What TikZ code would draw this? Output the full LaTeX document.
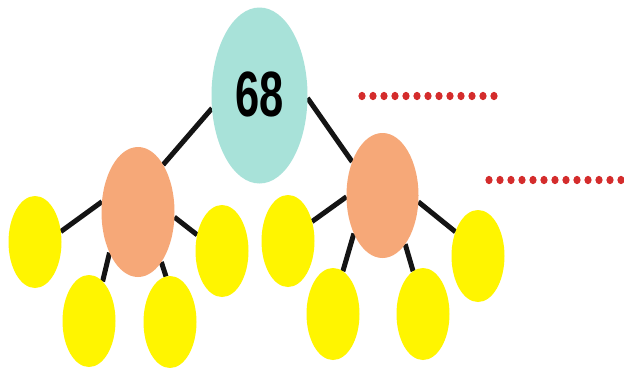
\documentclass[tikz,border=0pt]{standalone}
\usepackage{fontspec}
\usepackage{graphicx}
\setmainfont{Liberation Sans}
\usetikzlibrary{shapes.geometric}
\pgfdeclarelayer{bg}
\pgfsetlayers{bg,main}
\definecolor{tealc}{RGB}{168,226,217}
\definecolor{orangec}{RGB}{246,168,120}
\definecolor{yellowc}{RGB}{255,245,0}
\definecolor{dotred}{RGB}{212,44,44}
\begin{document}
\begin{tikzpicture}[x=1pt,y=-1pt,
  blob/.style={ellipse, inner sep=0pt, outer sep=0pt},
  rootnode/.style={blob, fill=tealc, minimum width=96pt, minimum height=176pt},
  midnode/.style={blob, fill=orangec, minimum width=72pt, minimum height=127pt},
  leaf/.style={blob, fill=yellowc, minimum width=53pt, minimum height=92pt},
  edge/.style={line width=5pt, black!92},
  dotrow/.style={fill=dotred}]
\useasboundingbox (0,0) rectangle (624,367);

\node[rootnode] (root) at (259.5,95.5)
  {\raisebox{3pt}{\bfseries\scalebox{0.68}[1]{\fontsize{64}{64}\selectfont 68}}};
\node[midnode, minimum height=130pt, minimum width=73pt] (L) at (138,212) {};
\node[midnode, minimum height=125pt] (R) at (382.5,195.5) {};

\node[leaf] (y1) at (35,242) {};
\node[leaf] (y2) at (89,321) {};
\node[leaf] (y3) at (170,322) {};
\node[leaf] (y4) at (222,251) {};
\node[leaf] (y5) at (288,241) {};
\node[leaf] (y6) at (333,314) {};
\node[leaf] (y7) at (423,314) {};
\node[leaf] (y8) at (478,256) {};

\begin{pgfonlayer}{bg}
\fill[white] (0,0) rectangle (624,367);
\draw[edge] (root.195) -- (L.62);
\draw[edge] (root.357) -- (R.132);
\draw[edge] (L.164) -- (y1.22);
\draw[edge] (L.235) -- (y2.71);
\draw[edge] (L.295) -- (y3.95);
\draw[edge] (L.352) -- (y4.147);
\draw[edge] (R.182) -- (y5.39);
\draw[edge] (R.233) -- (y6.77);
\draw[edge] (R.295) -- (y7.103);
\draw[edge] (R.350) -- (y8.133);
\end{pgfonlayer}

\foreach \i in {0,...,12}{
  \fill[dotrow] (362+11*\i,96) ellipse [x radius=3.6pt, y radius=4.2pt];
  \fill[dotrow] (489+11*\i,180) ellipse [x radius=3.6pt, y radius=4.2pt];
}
\end{tikzpicture}
\end{document}
